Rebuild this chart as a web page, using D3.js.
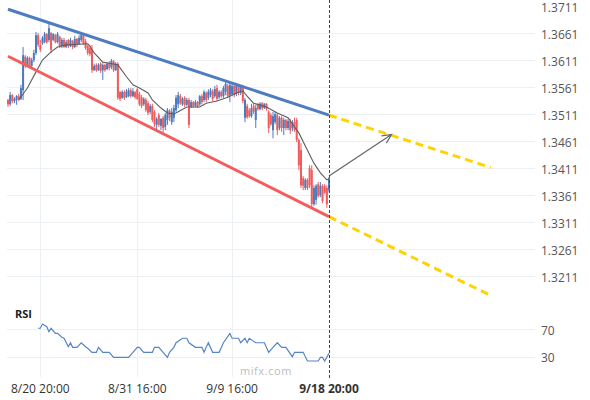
<!DOCTYPE html>
<html lang="en">
<head>
<meta charset="UTF-8">
<title>Channel chart</title>
<script src="https://cdn.jsdelivr.net/npm/d3@7"></script>
<style>
  body { margin: 0; background: #fff; }
  svg { font-family: 'Open Sans', sans-serif; display: block; }
  .grid line { stroke: #edf0f3; stroke-width: 1; shape-rendering: crispEdges; }
  .ylab { font-size: 12px; fill: #555; }
  .xlab { font-size: 12px; fill: #333; }
</style>
</head>
<body>
<svg id="chart" width="590" height="400"></svg>
<script>

// bars: [open, high, low, close], one every 4 hours
var ohlc = [
  [1.3537,1.3539,1.3524,1.3529],[1.3529,1.3552,1.3526,1.3546],[1.3546,1.3548,1.3531,1.3535],[1.3535,1.3542,1.3531,1.3539],
  [1.3537,1.3546,1.3528,1.3544],[1.3544,1.3548,1.3535,1.3539],[1.3539,1.3565,1.3537,1.3559],[1.3555,1.3635,1.3537,1.3620],
  [1.3617,1.3620,1.3596,1.3602],[1.3602,1.3618,1.3598,1.3615],[1.3615,1.3617,1.3596,1.3600],[1.3600,1.3615,1.3596,1.3611],
  [1.3611,1.3630,1.3607,1.3624],[1.3624,1.3663,1.3620,1.3657],[1.3657,1.3661,1.3635,1.3639],[1.3639,1.3648,1.3626,1.3630],
  [1.3642,1.3655,1.3639,1.3652],[1.3644,1.3663,1.3642,1.3659],[1.3659,1.3661,1.3641,1.3644],[1.3648,1.3680,1.3644,1.3670],
  [1.3661,1.3663,1.3624,1.3630],[1.3648,1.3661,1.3646,1.3659],[1.3657,1.3659,1.3642,1.3644],[1.3644,1.3663,1.3642,1.3659],
  [1.3654,1.3656,1.3633,1.3637],[1.3637,1.3652,1.3633,1.3648],[1.3648,1.3652,1.3633,1.3635],[1.3635,1.3648,1.3633,1.3644],
  [1.3648,1.3650,1.3633,1.3637],[1.3637,1.3652,1.3635,1.3648],[1.3646,1.3648,1.3631,1.3635],[1.3635,1.3656,1.3633,1.3650],
  [1.3650,1.3652,1.3635,1.3639],[1.3641,1.3657,1.3639,1.3652],[1.3648,1.3661,1.3644,1.3657],[1.3656,1.3659,1.3639,1.3642],
  [1.3646,1.3650,1.3630,1.3633],[1.3637,1.3639,1.3620,1.3624],[1.3633,1.3637,1.3618,1.3622],[1.3630,1.3639,1.3587,1.3592],
  [1.3592,1.3604,1.3591,1.3600],[1.3602,1.3605,1.3589,1.3592],[1.3592,1.3605,1.3591,1.3602],[1.3604,1.3607,1.3587,1.3591],
  [1.3592,1.3605,1.3574,1.3602],[1.3602,1.3604,1.3589,1.3592],[1.3594,1.3607,1.3592,1.3604],[1.3605,1.3609,1.3592,1.3596],
  [1.3598,1.3613,1.3594,1.3609],[1.3609,1.3611,1.3589,1.3592],[1.3592,1.3607,1.3591,1.3604],[1.3604,1.3607,1.3537,1.3541],
  [1.3552,1.3553,1.3535,1.3539],[1.3541,1.3555,1.3539,1.3552],[1.3552,1.3555,1.3537,1.3541],[1.3542,1.3557,1.3541,1.3553],
  [1.3544,1.3559,1.3542,1.3555],[1.3555,1.3559,1.3541,1.3544],[1.3544,1.3559,1.3542,1.3553],[1.3552,1.3553,1.3539,1.3542],
  [1.3557,1.3559,1.3537,1.3539],[1.3548,1.3552,1.3526,1.3529],[1.3542,1.3546,1.3522,1.3526],[1.3529,1.3542,1.3526,1.3539],
  [1.3537,1.3541,1.3515,1.3518],[1.3531,1.3535,1.3509,1.3513],[1.3515,1.3530,1.3511,1.3526],[1.3526,1.3530,1.3496,1.3500],
  [1.3515,1.3518,1.3487,1.3492],[1.3491,1.3505,1.3483,1.3502],[1.3509,1.3513,1.3487,1.3491],[1.3489,1.3503,1.3481,1.3502],
  [1.3504,1.3507,1.3476,1.3485],[1.3487,1.3513,1.3481,1.3509],[1.3500,1.3522,1.3491,1.3518],[1.3517,1.3520,1.3498,1.3504],
  [1.3496,1.3522,1.3491,1.3515],[1.3504,1.3528,1.3496,1.3522],[1.3518,1.3546,1.3515,1.3541],[1.3529,1.3552,1.3522,1.3546],
  [1.3544,1.3548,1.3528,1.3531],[1.3529,1.3542,1.3526,1.3539],[1.3541,1.3544,1.3524,1.3528],[1.3528,1.3541,1.3526,1.3537],
  [1.3537,1.3541,1.3485,1.3491],[1.3524,1.3537,1.3522,1.3533],[1.3533,1.3535,1.3522,1.3526],[1.3526,1.3537,1.3524,1.3533],
  [1.3533,1.3535,1.3522,1.3524],[1.3529,1.3546,1.3526,1.3544],[1.3544,1.3548,1.3529,1.3533],[1.3537,1.3555,1.3533,1.3552],
  [1.3550,1.3553,1.3533,1.3537],[1.3541,1.3557,1.3537,1.3552],[1.3546,1.3559,1.3542,1.3555],[1.3553,1.3557,1.3535,1.3539],
  [1.3544,1.3563,1.3541,1.3557],[1.3559,1.3565,1.3535,1.3539],[1.3542,1.3555,1.3539,1.3552],[1.3552,1.3555,1.3541,1.3544],
  [1.3544,1.3563,1.3541,1.3559],[1.3552,1.3570,1.3546,1.3567],[1.3563,1.3567,1.3541,1.3544],[1.3546,1.3570,1.3533,1.3565],
  [1.3548,1.3568,1.3544,1.3563],[1.3563,1.3567,1.3542,1.3546],[1.3548,1.3568,1.3544,1.3563],[1.3563,1.3567,1.3546,1.3550],
  [1.3550,1.3565,1.3546,1.3561],[1.3561,1.3565,1.3531,1.3535],[1.3504,1.3541,1.3496,1.3537],[1.3526,1.3530,1.3502,1.3505],
  [1.3518,1.3522,1.3504,1.3507],[1.3507,1.3530,1.3504,1.3522],[1.3526,1.3530,1.3511,1.3515],[1.3500,1.3528,1.3485,1.3522],
  [1.3530,1.3531,1.3517,1.3520],[1.3520,1.3533,1.3518,1.3530],[1.3531,1.3533,1.3518,1.3522],[1.3522,1.3531,1.3520,1.3530],
  [1.3530,1.3531,1.3517,1.3520],[1.3515,1.3518,1.3476,1.3485],[1.3509,1.3513,1.3489,1.3492],[1.3481,1.3515,1.3466,1.3507],
  [1.3496,1.3515,1.3492,1.3511],[1.3509,1.3513,1.3472,1.3481],[1.3485,1.3507,1.3481,1.3504],[1.3504,1.3507,1.3478,1.3485],
  [1.3485,1.3504,1.3472,1.3500],[1.3500,1.3502,1.3481,1.3485],[1.3485,1.3502,1.3481,1.3498],[1.3498,1.3502,1.3474,1.3481],
  [1.3485,1.3500,1.3479,1.3496],[1.3496,1.3504,1.3478,1.3481],[1.3500,1.3504,1.3459,1.3463],[1.3463,1.3466,1.3407,1.3416],
  [1.3444,1.3457,1.3374,1.3379],[1.3392,1.3396,1.3370,1.3378],[1.3374,1.3392,1.3370,1.3389],[1.3389,1.3392,1.3370,1.3374],
  [1.3411,1.3416,1.3374,1.3379],[1.3407,1.3416,1.3337,1.3344],[1.3344,1.3379,1.3341,1.3374],[1.3352,1.3381,1.3343,1.3378],
  [1.3381,1.3385,1.3356,1.3359],[1.3361,1.3385,1.3357,1.3378],[1.3378,1.3381,1.3346,1.3350],[1.3378,1.3381,1.3363,1.3365],
  [1.3374,1.3379,1.3337,1.3344],[1.3370,1.3394,1.3366,1.3392]
];

// moving average, [bar index, price]
var maLine = [
  [5,1.3537],[9,1.3559],[13,1.3589],[16,1.3611],[20,1.3626],[23,1.3635],[27,1.3639],[37,1.3641],
  [38,1.3637],[40,1.3624],[44,1.3607],[47,1.3605],[51,1.3602],[55,1.3580],[58,1.3565],[61,1.3559],
  [65,1.3550],[67,1.3537],[71,1.3522],[74,1.3513],[77,1.3511],[79,1.3515],[83,1.3524],[89,1.3524],
  [92,1.3531],[97,1.3535],[102,1.3542],[106,1.3550],[109,1.3554],[111,1.3544],[114,1.3531],[120,1.3524],
  [125,1.3513],[130,1.3504],[133,1.3487],[135,1.3476],[139,1.3444],[142,1.3420],[145,1.3402],[148,1.3389],
  [149,1.3391]
];

// RSI, [bar index, value]
var rsiLine = [
  [14,71.5],[15,71.5],[16,77.7],[18,73.8],[19,66.5],[20,71.5],[22,64],[23,64],[25,58.3],[26,56.9],
  [28,44.6],[29,50.4],[30,43.7],[32,43.7],[34,50.4],[36,44.6],[37,42.3],[39,36.4],[41,36.4],[42,43.7],
  [44,36.4],[47,36.4],[49,29],[56,29],[58,36.4],[60,43.7],[61,43.7],[63,36.4],[67,36.4],[68,43.7],
  [70,43.7],[72,36.4],[74,29],[75,36.4],[77,43.7],[78,50.4],[81,56.9],[83,56.9],[84,50.4],[87,43.7],
  [90,43.7],[91,36.4],[92,43.7],[93,50.4],[95,36.4],[98,36.4],[100,50.4],[103,64],[104,56.9],[107,56.9],
  [108,50.4],[110,56.9],[111,50.4],[112,56.9],[115,50.4],[119,50.4],[121,36.4],[123,43.7],[125,50.4],
  [127,43.7],[129,43.7],[132,30],[133,36.4],[137,36.4],[139,23.7],[144,23.7],[145,29],[146,29],
  [147,23.7],[149,35]
];

// channel lines and projections, [bar index, price]
var upperLine = [[0,1.3705],[149,1.3509]];
var lowerLine = [[0,1.3618],[149,1.3321]];
var upperProj = [[149,1.3509],[224,1.3412]];
var lowerProj = [[149,1.3321],[224,1.3175]];
var arrowLine = [[149,1.3396],[178,1.3473]];

var priceTicks = [1.3711,1.3661,1.3611,1.3561,1.3511,1.3461,1.3411,1.3361,1.3311,1.3261,1.3211];
var rsiTicks = [70,30];
var timeTicks = [15,60,104,149];
var timeLabels = ["8/20 20:00","8/31 16:00","9/9 16:00","9/18 20:00"];

var UP = "#4a7bbf", DOWN = "#f05b5b";

var svg = d3.select("#chart");

var x = d3.scaleLinear().domain([0,149]).range([8,329]);
var y = d3.scaleLinear().domain([1.3211,1.3711]).range([276,6]);
var yR = d3.scaleLinear().domain([30,70]).range([356.7,329.3]);

var PLOT_L = 7, PLOT_R = 535;

// grid
var grid = svg.append("g").attr("class","grid");
grid.selectAll("line.h").data(priceTicks.slice(1)).join("line")
  .attr("x1",PLOT_L).attr("x2",PLOT_R)
  .attr("y1",function(d){ return Math.round(y(d))+0.5; })
  .attr("y2",function(d){ return Math.round(y(d))+0.5; });
grid.selectAll("line.r").data(rsiTicks).join("line")
  .attr("x1",PLOT_L).attr("x2",PLOT_R)
  .attr("y1",function(d){ return Math.round(yR(d))+0.5; })
  .attr("y2",function(d){ return Math.round(yR(d))+0.5; });
grid.selectAll("line.v").data(timeTicks.slice(0,-1)).join("line")
  .attr("x1",function(d){ return Math.round(x(d))+0.5; })
  .attr("x2",function(d){ return Math.round(x(d))+0.5; })
  .attr("y1",0).attr("y2",377);

// candles
var candle = svg.append("g").selectAll("g").data(ohlc).join("g");
candle.append("line")
  .attr("x1",function(d,i){ return x(i); })
  .attr("x2",function(d,i){ return x(i); })
  .attr("y1",function(d){ return y(d[1]); })
  .attr("y2",function(d){ return y(d[2]); })
  .attr("stroke",function(d){ return d[3] >= d[0] ? UP : DOWN; })
  .attr("stroke-width",1);
candle.append("rect")
  .attr("x",function(d,i){ return x(i)-1; })
  .attr("width",2)
  .attr("y",function(d){ return y(Math.max(d[0],d[3])); })
  .attr("height",function(d){ return Math.max(1, Math.abs(y(d[0])-y(d[3]))); })
  .attr("fill",function(d){ return d[3] >= d[0] ? UP : DOWN; });

var line = d3.line().x(function(d){ return x(d[0]); }).y(function(d){ return y(d[1]); });

// moving average
svg.append("path").attr("d",line(maLine))
  .attr("fill","none").attr("stroke","#5e5e5e").attr("stroke-width",1.1);

// channel
svg.append("path").attr("d",line(upperLine))
  .attr("stroke","#4d7cc0").attr("stroke-width",3).attr("fill","none");
svg.append("path").attr("d",line(lowerLine))
  .attr("stroke","#f25d5d").attr("stroke-width",3).attr("fill","none");
[upperProj, lowerProj].forEach(function(p){
  svg.append("path").attr("d",line(p))
    .attr("stroke","#ffd200").attr("stroke-width",3)
    .attr("stroke-dasharray","8,5").attr("fill","none");
});

// arrow
var a0 = [x(arrowLine[0][0]), y(arrowLine[0][1])];
var a1 = [x(arrowLine[1][0]), y(arrowLine[1][1])];
var ang = Math.atan2(a1[1]-a0[1], a1[0]-a0[0]);
var HEAD = 10, SPREAD = 0.45;
svg.append("path")
  .attr("d","M"+a0+"L"+a1+
    "M"+[a1[0]-HEAD*Math.cos(ang-SPREAD), a1[1]-HEAD*Math.sin(ang-SPREAD)]+"L"+a1+
    "L"+[a1[0]-HEAD*Math.cos(ang+SPREAD), a1[1]-HEAD*Math.sin(ang+SPREAD)])
  .attr("fill","none").attr("stroke","#666").attr("stroke-width",1.2);

// rsi
svg.append("path")
  .attr("d",d3.line().x(function(d){ return x(d[0]); }).y(function(d){ return yR(d[1]); })(rsiLine))
  .attr("fill","none").attr("stroke","#5585c8").attr("stroke-width",1.2);

// last bar marker
svg.append("line")
  .attr("x1",Math.round(x(149))+0.5).attr("x2",Math.round(x(149))+0.5)
  .attr("y1",0).attr("y2",378)
  .attr("stroke","#444").attr("stroke-width",1).attr("stroke-dasharray","3,2");

// labels
svg.selectAll("text.yl").data(priceTicks).join("text")
  .attr("class","ylab").attr("x",541).attr("y",function(d){ return y(d)+1.5; })
  .attr("dy","0.35em").text(function(d){ return d.toFixed(4); });
svg.selectAll("text.rl").data(rsiTicks).join("text")
  .attr("class","ylab").attr("x",541).attr("y",function(d){ return yR(d)+1; })
  .attr("dy","0.35em").text(function(d){ return d; });
svg.selectAll("text.xl").data(timeTicks).join("text")
  .attr("class","xlab").attr("text-anchor","middle")
  .attr("x",function(d){ return x(d); }).attr("y",393)
  .attr("font-weight",function(d,i){ return i === timeTicks.length-1 ? "bold" : null; })
  .text(function(d,i){ return timeLabels[i]; });

svg.append("text").attr("x",15).attr("y",318)
  .attr("font-size",11).attr("font-weight","bold").attr("fill","#222").text("RSI");
svg.append("text").attr("x",266).attr("y",375).attr("text-anchor","middle")
  .attr("font-size",11).attr("fill","#bdbdbd").attr("letter-spacing",0.6).text("mifx.com");

</script>
</body>
</html>
